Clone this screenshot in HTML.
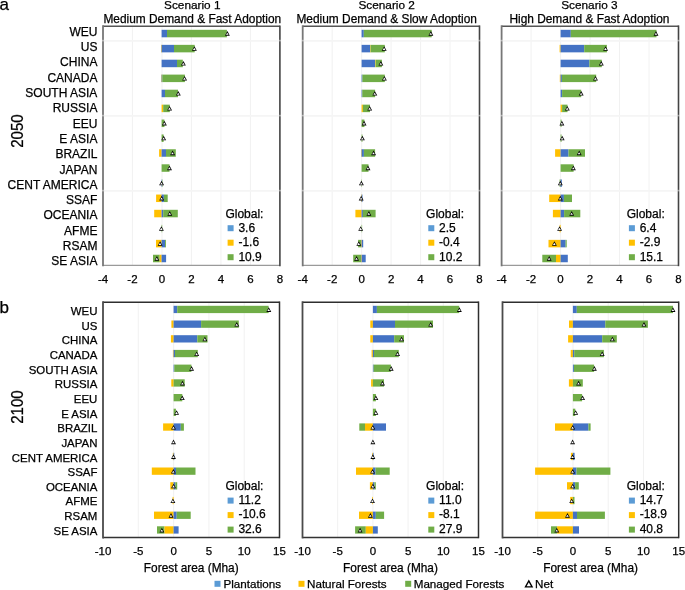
<!DOCTYPE html><html><head><meta charset="utf-8"><style>html,body{margin:0;padding:0;background:#fff;}svg{display:block;}text{font-family:"Liberation Sans",sans-serif;fill:#000;stroke:#000;stroke-width:0.25px;}</style></head><body>
<svg width="685" height="590" viewBox="0 0 685 590" style="will-change:transform">
<rect x="0" y="0" width="685" height="590" fill="#fff"/>
<text x="-0.5" y="10" font-size="17">a</text>
<text x="-0.5" y="313" font-size="17">b</text>
<text x="192.3" y="8.8" font-size="11.8" text-anchor="middle">Scenario 1</text>
<text x="192.3" y="22.8" font-size="11.9" text-anchor="middle">Medium Demand &amp; Fast Adoption</text>
<text x="386.7" y="8.8" font-size="11.8" text-anchor="middle">Scenario 2</text>
<text x="386.7" y="22.8" font-size="11.9" text-anchor="middle">Medium Demand &amp; Slow Adoption</text>
<text x="589.4" y="8.8" font-size="11.8" text-anchor="middle">Scenario 3</text>
<text x="589.4" y="22.8" font-size="11.9" text-anchor="middle">High Demand &amp; Fast Adoption</text>
<line x1="132.48" y1="26.2" x2="132.48" y2="265.4" stroke="#efefef" stroke-width="0.9"/>
<line x1="161.97" y1="26.2" x2="161.97" y2="265.4" stroke="#efefef" stroke-width="0.9"/>
<line x1="191.45" y1="26.2" x2="191.45" y2="265.4" stroke="#efefef" stroke-width="0.9"/>
<line x1="220.93" y1="26.2" x2="220.93" y2="265.4" stroke="#efefef" stroke-width="0.9"/>
<line x1="250.42" y1="26.2" x2="250.42" y2="265.4" stroke="#efefef" stroke-width="0.9"/>
<line x1="104" y1="40.9" x2="278.9" y2="40.9" stroke="#f5f5f5" stroke-width="1.6"/>
<line x1="104" y1="115.9" x2="278.9" y2="115.9" stroke="#f5f5f5" stroke-width="1.6"/>
<line x1="104" y1="190.9" x2="278.9" y2="190.9" stroke="#f5f5f5" stroke-width="1.6"/>
<rect x="161.6" y="29.8" width="5.4" height="7.5" fill="#4472C4"/>
<rect x="167" y="29.8" width="59.9" height="7.5" fill="#70AD47"/>
<rect x="161" y="44.85" width="0.6" height="7.5" fill="#FFC000"/>
<rect x="161.6" y="44.85" width="12.4" height="7.5" fill="#4472C4"/>
<rect x="174" y="44.85" width="20.7" height="7.5" fill="#70AD47"/>
<rect x="161.6" y="59.7" width="15.4" height="7.5" fill="#4472C4"/>
<rect x="177" y="59.7" width="5.8" height="7.5" fill="#70AD47"/>
<rect x="161.1" y="74.6" width="0.5" height="7.5" fill="#FFC000"/>
<rect x="161.6" y="74.6" width="0.7" height="7.5" fill="#4472C4"/>
<rect x="162.3" y="74.6" width="22.6" height="7.5" fill="#70AD47"/>
<rect x="161.6" y="89.7" width="3.4" height="7.5" fill="#4472C4"/>
<rect x="165" y="89.7" width="13" height="7.5" fill="#70AD47"/>
<rect x="161.6" y="104.65" width="1.6" height="7.5" fill="#FFC000"/>
<rect x="163.2" y="104.65" width="6.6" height="7.5" fill="#70AD47"/>
<rect x="161.6" y="119.55" width="2.8" height="7.5" fill="#70AD47"/>
<rect x="161.6" y="134.45" width="2" height="7.5" fill="#70AD47"/>
<rect x="159.1" y="149.25" width="2.5" height="7.5" fill="#FFC000"/>
<rect x="161.6" y="149.25" width="4.4" height="7.5" fill="#4472C4"/>
<rect x="166" y="149.25" width="9.8" height="7.5" fill="#70AD47"/>
<rect x="161.6" y="164.3" width="7.9" height="7.5" fill="#70AD47"/>
<rect x="161.6" y="179.45" width="0.5" height="7.5" fill="#4472C4"/>
<rect x="162.1" y="179.45" width="0.4" height="7.5" fill="#70AD47"/>
<rect x="156.1" y="194.55" width="5.5" height="7.5" fill="#FFC000"/>
<rect x="161.6" y="194.55" width="2.3" height="7.5" fill="#4472C4"/>
<rect x="163.9" y="194.55" width="3.8" height="7.5" fill="#70AD47"/>
<rect x="154.2" y="209.8" width="7.4" height="7.5" fill="#FFC000"/>
<rect x="161.6" y="209.8" width="1.6" height="7.5" fill="#4472C4"/>
<rect x="163.2" y="209.8" width="14.6" height="7.5" fill="#70AD47"/>
<rect x="161.6" y="224.85" width="0.6" height="7.5" fill="#70AD47"/>
<rect x="156" y="239.85" width="5.6" height="7.5" fill="#FFC000"/>
<rect x="161.6" y="239.85" width="3.5" height="7.5" fill="#4472C4"/>
<rect x="165.1" y="239.85" width="0.9" height="7.5" fill="#70AD47"/>
<rect x="153" y="254.75" width="6.7" height="7.5" fill="#70AD47"/>
<rect x="159.7" y="254.75" width="1.9" height="7.5" fill="#FFC000"/>
<rect x="161.6" y="254.75" width="4.5" height="7.5" fill="#4472C4"/>
<path d="M227.4 31.1L229.85 35.7L224.95 35.7Z" fill="#000"/>
<path d="M227.3 32.75L228.65 34.85L225.95 34.85Z" fill="#fff"/>
<path d="M194.4 46.15L196.85 50.75L191.95 50.75Z" fill="#000"/>
<path d="M194.3 47.8L195.65 49.9L192.95 49.9Z" fill="#fff"/>
<path d="M183.4 61L185.85 65.6L180.95 65.6Z" fill="#000"/>
<path d="M183.3 62.65L184.65 64.75L181.95 64.75Z" fill="#fff"/>
<path d="M184.6 75.9L187.05 80.5L182.15 80.5Z" fill="#000"/>
<path d="M184.5 77.55L185.85 79.65L183.15 79.65Z" fill="#fff"/>
<path d="M178.3 91L180.75 95.6L175.85 95.6Z" fill="#000"/>
<path d="M178.2 92.65L179.55 94.75L176.85 94.75Z" fill="#fff"/>
<path d="M169.6 105.95L172.05 110.55L167.15 110.55Z" fill="#000"/>
<path d="M169.5 107.6L170.85 109.7L168.15 109.7Z" fill="#fff"/>
<path d="M164.4 120.85L166.85 125.45L161.95 125.45Z" fill="#000"/>
<path d="M164.3 122.5L165.65 124.6L162.95 124.6Z" fill="#fff"/>
<path d="M163.7 135.75L166.15 140.35L161.25 140.35Z" fill="#000"/>
<path d="M163.6 137.4L164.95 139.5L162.25 139.5Z" fill="#fff"/>
<path d="M172.6 150.55L175.05 155.15L170.15 155.15Z" fill="#000"/>
<path d="M172.5 152.2L173.85 154.3L171.15 154.3Z" fill="#fff"/>
<path d="M169.5 165.6L171.95 170.2L167.05 170.2Z" fill="#000"/>
<path d="M169.4 167.25L170.75 169.35L168.05 169.35Z" fill="#fff"/>
<path d="M161.6 180.75L164.05 185.35L159.15 185.35Z" fill="#000"/>
<path d="M161.5 182.4L162.85 184.5L160.15 184.5Z" fill="#fff"/>
<path d="M161.7 195.85L164.15 200.45L159.25 200.45Z" fill="#000"/>
<path d="M161.6 197.5L162.95 199.6L160.25 199.6Z" fill="#fff"/>
<path d="M169.8 211.1L172.25 215.7L167.35 215.7Z" fill="#000"/>
<path d="M169.7 212.75L171.05 214.85L168.35 214.85Z" fill="#fff"/>
<path d="M161.4 226.15L163.85 230.75L158.95 230.75Z" fill="#000"/>
<path d="M161.3 227.8L162.65 229.9L159.95 229.9Z" fill="#fff"/>
<path d="M160.1 241.15L162.55 245.75L157.65 245.75Z" fill="#000"/>
<path d="M160 242.8L161.35 244.9L158.65 244.9Z" fill="#fff"/>
<path d="M156.9 256.05L159.35 260.65L154.45 260.65Z" fill="#000"/>
<path d="M156.8 257.7L158.15 259.8L155.45 259.8Z" fill="#fff"/>
<line x1="103" y1="265.4" x2="279.9" y2="265.4" stroke="#9a9a9a" stroke-width="1.1"/>
<line x1="103" y1="26.2" x2="279.9" y2="26.2" stroke="#555" stroke-width="1.4"/>
<line x1="103" y1="26.2" x2="103" y2="265.4" stroke="#777" stroke-width="1.8" stroke-linecap="square"/>
<line x1="279.9" y1="26.2" x2="279.9" y2="265.4" stroke="#444" stroke-width="1.6" stroke-linecap="square"/>
<rect x="101.8" y="39.8" width="2.4" height="1.6" fill="#fff" fill-opacity="0.45"/>
<rect x="278.7" y="39.8" width="2.4" height="1.6" fill="#fff" fill-opacity="0.45"/>
<rect x="101.8" y="114.8" width="2.4" height="1.6" fill="#fff" fill-opacity="0.45"/>
<rect x="278.7" y="114.8" width="2.4" height="1.6" fill="#fff" fill-opacity="0.45"/>
<rect x="101.8" y="189.8" width="2.4" height="1.6" fill="#fff" fill-opacity="0.45"/>
<rect x="278.7" y="189.8" width="2.4" height="1.6" fill="#fff" fill-opacity="0.45"/>
<line x1="138.3" y1="302.2" x2="138.3" y2="537.5" stroke="#efefef" stroke-width="0.9"/>
<line x1="173.6" y1="302.2" x2="173.6" y2="537.5" stroke="#efefef" stroke-width="0.9"/>
<line x1="208.9" y1="302.2" x2="208.9" y2="537.5" stroke="#efefef" stroke-width="0.9"/>
<line x1="244.2" y1="302.2" x2="244.2" y2="537.5" stroke="#efefef" stroke-width="0.9"/>
<rect x="173.6" y="305.8" width="3.6" height="7.3" fill="#4472C4"/>
<rect x="177.2" y="305.8" width="91.4" height="7.3" fill="#70AD47"/>
<rect x="171.4" y="320.5" width="2.2" height="7.3" fill="#FFC000"/>
<rect x="173.6" y="320.5" width="27.5" height="7.3" fill="#4472C4"/>
<rect x="201.1" y="320.5" width="37.7" height="7.3" fill="#70AD47"/>
<rect x="170.9" y="335.2" width="2.7" height="7.3" fill="#FFC000"/>
<rect x="173.6" y="335.2" width="23.7" height="7.3" fill="#4472C4"/>
<rect x="197.3" y="335.2" width="10.2" height="7.3" fill="#70AD47"/>
<rect x="172.9" y="349.9" width="0.7" height="7.3" fill="#FFC000"/>
<rect x="173.6" y="349.9" width="1.4" height="7.3" fill="#4472C4"/>
<rect x="175" y="349.9" width="22.8" height="7.3" fill="#70AD47"/>
<rect x="173.6" y="364.6" width="0.7" height="7.3" fill="#4472C4"/>
<rect x="174.3" y="364.6" width="17.1" height="7.3" fill="#70AD47"/>
<rect x="171.3" y="379.3" width="2.3" height="7.3" fill="#FFC000"/>
<rect x="173.6" y="379.3" width="11.1" height="7.3" fill="#70AD47"/>
<rect x="173.6" y="394" width="8.7" height="7.3" fill="#70AD47"/>
<rect x="173.6" y="408.7" width="2.3" height="7.3" fill="#70AD47"/>
<rect x="163.1" y="423.4" width="10.5" height="7.3" fill="#FFC000"/>
<rect x="173.6" y="423.4" width="7.2" height="7.3" fill="#4472C4"/>
<rect x="180.8" y="423.4" width="3.1" height="7.3" fill="#70AD47"/>
<rect x="172.8" y="452.8" width="0.8" height="7.3" fill="#FFC000"/>
<rect x="173.6" y="452.8" width="0.7" height="7.3" fill="#4472C4"/>
<rect x="151.8" y="467.5" width="21.8" height="7.3" fill="#FFC000"/>
<rect x="173.6" y="467.5" width="2.4" height="7.3" fill="#4472C4"/>
<rect x="176" y="467.5" width="19.5" height="7.3" fill="#70AD47"/>
<rect x="170.3" y="482.2" width="3.3" height="7.3" fill="#FFC000"/>
<rect x="173.6" y="482.2" width="1.7" height="7.3" fill="#4472C4"/>
<rect x="175.3" y="482.2" width="1.9" height="7.3" fill="#70AD47"/>
<rect x="172.6" y="496.9" width="1" height="7.3" fill="#FFC000"/>
<rect x="154" y="511.6" width="19.6" height="7.3" fill="#FFC000"/>
<rect x="173.6" y="511.6" width="3.1" height="7.3" fill="#4472C4"/>
<rect x="176.7" y="511.6" width="14" height="7.3" fill="#70AD47"/>
<rect x="157" y="526.3" width="7.5" height="7.3" fill="#70AD47"/>
<rect x="164.5" y="526.3" width="9.1" height="7.3" fill="#FFC000"/>
<rect x="173.6" y="526.3" width="5" height="7.3" fill="#4472C4"/>
<path d="M268.8 307.3L271.25 311.9L266.35 311.9Z" fill="#000"/>
<path d="M268.7 308.95L270.05 311.05L267.35 311.05Z" fill="#fff"/>
<path d="M236.8 322L239.25 326.6L234.35 326.6Z" fill="#000"/>
<path d="M236.7 323.65L238.05 325.75L235.35 325.75Z" fill="#fff"/>
<path d="M204.9 336.7L207.35 341.3L202.45 341.3Z" fill="#000"/>
<path d="M204.8 338.35L206.15 340.45L203.45 340.45Z" fill="#fff"/>
<path d="M196.7 351.4L199.15 356L194.25 356Z" fill="#000"/>
<path d="M196.6 353.05L197.95 355.15L195.25 355.15Z" fill="#fff"/>
<path d="M191.6 366.1L194.05 370.7L189.15 370.7Z" fill="#000"/>
<path d="M191.5 367.75L192.85 369.85L190.15 369.85Z" fill="#fff"/>
<path d="M182.5 380.8L184.95 385.4L180.05 385.4Z" fill="#000"/>
<path d="M182.4 382.45L183.75 384.55L181.05 384.55Z" fill="#fff"/>
<path d="M182.3 395.5L184.75 400.1L179.85 400.1Z" fill="#000"/>
<path d="M182.2 397.15L183.55 399.25L180.85 399.25Z" fill="#fff"/>
<path d="M176.6 410.2L179.05 414.8L174.15 414.8Z" fill="#000"/>
<path d="M176.5 411.85L177.85 413.95L175.15 413.95Z" fill="#fff"/>
<path d="M173.5 424.9L175.95 429.5L171.05 429.5Z" fill="#000"/>
<path d="M173.4 426.55L174.75 428.65L172.05 428.65Z" fill="#fff"/>
<path d="M173.5 439.6L175.95 444.2L171.05 444.2Z" fill="#000"/>
<path d="M173.4 441.25L174.75 443.35L172.05 443.35Z" fill="#fff"/>
<path d="M173.5 454.3L175.95 458.9L171.05 458.9Z" fill="#000"/>
<path d="M173.4 455.95L174.75 458.05L172.05 458.05Z" fill="#fff"/>
<path d="M173.4 469L175.85 473.6L170.95 473.6Z" fill="#000"/>
<path d="M173.3 470.65L174.65 472.75L171.95 472.75Z" fill="#fff"/>
<path d="M173.6 483.7L176.05 488.3L171.15 488.3Z" fill="#000"/>
<path d="M173.5 485.35L174.85 487.45L172.15 487.45Z" fill="#fff"/>
<path d="M172.9 498.4L175.35 503L170.45 503Z" fill="#000"/>
<path d="M172.8 500.05L174.15 502.15L171.45 502.15Z" fill="#fff"/>
<path d="M171 513.1L173.45 517.7L168.55 517.7Z" fill="#000"/>
<path d="M170.9 514.75L172.25 516.85L169.55 516.85Z" fill="#fff"/>
<path d="M161.9 527.8L164.35 532.4L159.45 532.4Z" fill="#000"/>
<path d="M161.8 529.45L163.15 531.55L160.45 531.55Z" fill="#fff"/>
<line x1="103" y1="537.5" x2="279.5" y2="537.5" stroke="#333" stroke-width="1.5"/>
<line x1="103" y1="302.2" x2="279.5" y2="302.2" stroke="#2e2e2e" stroke-width="1.5"/>
<line x1="103" y1="302.2" x2="103" y2="537.5" stroke="#4a4a4a" stroke-width="1.8" stroke-linecap="square"/>
<line x1="279.5" y1="302.2" x2="279.5" y2="537.5" stroke="#2e2e2e" stroke-width="1.5" stroke-linecap="square"/>
<line x1="332.17" y1="26.2" x2="332.17" y2="265.4" stroke="#efefef" stroke-width="0.9"/>
<line x1="361.63" y1="26.2" x2="361.63" y2="265.4" stroke="#efefef" stroke-width="0.9"/>
<line x1="391.1" y1="26.2" x2="391.1" y2="265.4" stroke="#efefef" stroke-width="0.9"/>
<line x1="420.57" y1="26.2" x2="420.57" y2="265.4" stroke="#efefef" stroke-width="0.9"/>
<line x1="450.03" y1="26.2" x2="450.03" y2="265.4" stroke="#efefef" stroke-width="0.9"/>
<line x1="303.7" y1="40.9" x2="478.5" y2="40.9" stroke="#f5f5f5" stroke-width="1.6"/>
<line x1="303.7" y1="115.9" x2="478.5" y2="115.9" stroke="#f5f5f5" stroke-width="1.6"/>
<line x1="303.7" y1="190.9" x2="478.5" y2="190.9" stroke="#f5f5f5" stroke-width="1.6"/>
<rect x="361.6" y="29.8" width="2.2" height="7.5" fill="#4472C4"/>
<rect x="363.8" y="29.8" width="67.9" height="7.5" fill="#70AD47"/>
<rect x="361.6" y="44.85" width="8.5" height="7.5" fill="#4472C4"/>
<rect x="370.1" y="44.85" width="0.5" height="7.5" fill="#FFC000"/>
<rect x="370.6" y="44.85" width="14.2" height="7.5" fill="#70AD47"/>
<rect x="361.6" y="59.7" width="13.4" height="7.5" fill="#4472C4"/>
<rect x="375" y="59.7" width="0.6" height="7.5" fill="#FFC000"/>
<rect x="375.6" y="59.7" width="6.3" height="7.5" fill="#70AD47"/>
<rect x="361.6" y="74.6" width="0.8" height="7.5" fill="#4472C4"/>
<rect x="362.4" y="74.6" width="22.4" height="7.5" fill="#70AD47"/>
<rect x="361.6" y="89.7" width="0.7" height="7.5" fill="#4472C4"/>
<rect x="362.3" y="89.7" width="12.8" height="7.5" fill="#70AD47"/>
<rect x="361.6" y="104.65" width="1.3" height="7.5" fill="#FFC000"/>
<rect x="362.9" y="104.65" width="7.1" height="7.5" fill="#70AD47"/>
<rect x="361.6" y="119.55" width="2.8" height="7.5" fill="#70AD47"/>
<rect x="361.6" y="134.45" width="0.8" height="7.5" fill="#70AD47"/>
<rect x="361.1" y="149.25" width="0.5" height="7.5" fill="#FFC000"/>
<rect x="361.6" y="149.25" width="2.3" height="7.5" fill="#4472C4"/>
<rect x="363.9" y="149.25" width="11.2" height="7.5" fill="#70AD47"/>
<rect x="361.6" y="164.3" width="6.9" height="7.5" fill="#70AD47"/>
<rect x="361.6" y="179.45" width="0.4" height="7.5" fill="#70AD47"/>
<rect x="361" y="194.55" width="0.6" height="7.5" fill="#FFC000"/>
<rect x="361.6" y="194.55" width="0.9" height="7.5" fill="#4472C4"/>
<rect x="355.4" y="209.8" width="6.2" height="7.5" fill="#FFC000"/>
<rect x="361.6" y="209.8" width="1.3" height="7.5" fill="#4472C4"/>
<rect x="362.9" y="209.8" width="12.7" height="7.5" fill="#70AD47"/>
<rect x="361.6" y="224.85" width="0.5" height="7.5" fill="#70AD47"/>
<rect x="358.1" y="239.85" width="2.9" height="7.5" fill="#70AD47"/>
<rect x="361" y="239.85" width="0.6" height="7.5" fill="#FFC000"/>
<rect x="361.6" y="239.85" width="1.6" height="7.5" fill="#4472C4"/>
<rect x="353.2" y="254.75" width="7.8" height="7.5" fill="#70AD47"/>
<rect x="361" y="254.75" width="0.6" height="7.5" fill="#FFC000"/>
<rect x="361.6" y="254.75" width="4.1" height="7.5" fill="#4472C4"/>
<path d="M430.9 31.1L433.35 35.7L428.45 35.7Z" fill="#000"/>
<path d="M430.8 32.75L432.15 34.85L429.45 34.85Z" fill="#fff"/>
<path d="M384.2 46.15L386.65 50.75L381.75 50.75Z" fill="#000"/>
<path d="M384.1 47.8L385.45 49.9L382.75 49.9Z" fill="#fff"/>
<path d="M380.9 61L383.35 65.6L378.45 65.6Z" fill="#000"/>
<path d="M380.8 62.65L382.15 64.75L379.45 64.75Z" fill="#fff"/>
<path d="M384.4 75.9L386.85 80.5L381.95 80.5Z" fill="#000"/>
<path d="M384.3 77.55L385.65 79.65L382.95 79.65Z" fill="#fff"/>
<path d="M374.8 91L377.25 95.6L372.35 95.6Z" fill="#000"/>
<path d="M374.7 92.65L376.05 94.75L373.35 94.75Z" fill="#fff"/>
<path d="M369.7 105.95L372.15 110.55L367.25 110.55Z" fill="#000"/>
<path d="M369.6 107.6L370.95 109.7L368.25 109.7Z" fill="#fff"/>
<path d="M364.1 120.85L366.55 125.45L361.65 125.45Z" fill="#000"/>
<path d="M364 122.5L365.35 124.6L362.65 124.6Z" fill="#fff"/>
<path d="M362.4 135.75L364.85 140.35L359.95 140.35Z" fill="#000"/>
<path d="M362.3 137.4L363.65 139.5L360.95 139.5Z" fill="#fff"/>
<path d="M373.6 150.55L376.05 155.15L371.15 155.15Z" fill="#000"/>
<path d="M373.5 152.2L374.85 154.3L372.15 154.3Z" fill="#fff"/>
<path d="M368 165.6L370.45 170.2L365.55 170.2Z" fill="#000"/>
<path d="M367.9 167.25L369.25 169.35L366.55 169.35Z" fill="#fff"/>
<path d="M361.4 180.75L363.85 185.35L358.95 185.35Z" fill="#000"/>
<path d="M361.3 182.4L362.65 184.5L359.95 184.5Z" fill="#fff"/>
<path d="M361.2 195.85L363.65 200.45L358.75 200.45Z" fill="#000"/>
<path d="M361.1 197.5L362.45 199.6L359.75 199.6Z" fill="#fff"/>
<path d="M368.9 211.1L371.35 215.7L366.45 215.7Z" fill="#000"/>
<path d="M368.8 212.75L370.15 214.85L367.45 214.85Z" fill="#fff"/>
<path d="M360.7 226.15L363.15 230.75L358.25 230.75Z" fill="#000"/>
<path d="M360.6 227.8L361.95 229.9L359.25 229.9Z" fill="#fff"/>
<path d="M358.8 241.15L361.25 245.75L356.35 245.75Z" fill="#000"/>
<path d="M358.7 242.8L360.05 244.9L357.35 244.9Z" fill="#fff"/>
<path d="M356.6 256.05L359.05 260.65L354.15 260.65Z" fill="#000"/>
<path d="M356.5 257.7L357.85 259.8L355.15 259.8Z" fill="#fff"/>
<line x1="302.7" y1="265.4" x2="479.5" y2="265.4" stroke="#9a9a9a" stroke-width="1.1"/>
<line x1="302.7" y1="26.2" x2="479.5" y2="26.2" stroke="#555" stroke-width="1.4"/>
<line x1="302.7" y1="26.2" x2="302.7" y2="265.4" stroke="#777" stroke-width="1.8" stroke-linecap="square"/>
<line x1="479.5" y1="26.2" x2="479.5" y2="265.4" stroke="#444" stroke-width="1.6" stroke-linecap="square"/>
<rect x="301.5" y="39.8" width="2.4" height="1.6" fill="#fff" fill-opacity="0.45"/>
<rect x="478.3" y="39.8" width="2.4" height="1.6" fill="#fff" fill-opacity="0.45"/>
<rect x="301.5" y="114.8" width="2.4" height="1.6" fill="#fff" fill-opacity="0.45"/>
<rect x="478.3" y="114.8" width="2.4" height="1.6" fill="#fff" fill-opacity="0.45"/>
<rect x="301.5" y="189.8" width="2.4" height="1.6" fill="#fff" fill-opacity="0.45"/>
<rect x="478.3" y="189.8" width="2.4" height="1.6" fill="#fff" fill-opacity="0.45"/>
<line x1="337.7" y1="302.2" x2="337.7" y2="537.5" stroke="#efefef" stroke-width="0.9"/>
<line x1="372.9" y1="302.2" x2="372.9" y2="537.5" stroke="#efefef" stroke-width="0.9"/>
<line x1="408.1" y1="302.2" x2="408.1" y2="537.5" stroke="#efefef" stroke-width="0.9"/>
<line x1="443.3" y1="302.2" x2="443.3" y2="537.5" stroke="#efefef" stroke-width="0.9"/>
<rect x="372.9" y="305.8" width="4" height="7.3" fill="#4472C4"/>
<rect x="376.9" y="305.8" width="82.3" height="7.3" fill="#70AD47"/>
<rect x="370.3" y="320.5" width="2.6" height="7.3" fill="#FFC000"/>
<rect x="372.9" y="320.5" width="22.1" height="7.3" fill="#4472C4"/>
<rect x="395" y="320.5" width="38" height="7.3" fill="#70AD47"/>
<rect x="370.3" y="335.2" width="2.6" height="7.3" fill="#FFC000"/>
<rect x="372.9" y="335.2" width="21.3" height="7.3" fill="#4472C4"/>
<rect x="394.2" y="335.2" width="9.8" height="7.3" fill="#70AD47"/>
<rect x="371.6" y="349.9" width="1.3" height="7.3" fill="#FFC000"/>
<rect x="372.9" y="349.9" width="1.1" height="7.3" fill="#4472C4"/>
<rect x="374" y="349.9" width="24.8" height="7.3" fill="#70AD47"/>
<rect x="372.9" y="364.6" width="0.7" height="7.3" fill="#4472C4"/>
<rect x="373.6" y="364.6" width="17.3" height="7.3" fill="#70AD47"/>
<rect x="371.1" y="379.3" width="1.8" height="7.3" fill="#FFC000"/>
<rect x="372.9" y="379.3" width="11.1" height="7.3" fill="#70AD47"/>
<rect x="372.9" y="394" width="3" height="7.3" fill="#70AD47"/>
<rect x="372.9" y="408.7" width="3" height="7.3" fill="#70AD47"/>
<rect x="359.3" y="423.4" width="5.7" height="7.3" fill="#70AD47"/>
<rect x="365" y="423.4" width="7.9" height="7.3" fill="#FFC000"/>
<rect x="372.9" y="423.4" width="13.1" height="7.3" fill="#4472C4"/>
<rect x="372.2" y="452.8" width="0.7" height="7.3" fill="#FFC000"/>
<rect x="372.9" y="452.8" width="0.7" height="7.3" fill="#4472C4"/>
<rect x="356" y="467.5" width="16.9" height="7.3" fill="#FFC000"/>
<rect x="372.9" y="467.5" width="2.7" height="7.3" fill="#4472C4"/>
<rect x="375.6" y="467.5" width="14.1" height="7.3" fill="#70AD47"/>
<rect x="369.9" y="482.2" width="3" height="7.3" fill="#FFC000"/>
<rect x="372.9" y="482.2" width="1.6" height="7.3" fill="#4472C4"/>
<rect x="374.5" y="482.2" width="1.3" height="7.3" fill="#70AD47"/>
<rect x="372.2" y="496.9" width="0.7" height="7.3" fill="#FFC000"/>
<rect x="359" y="511.6" width="13.9" height="7.3" fill="#FFC000"/>
<rect x="372.9" y="511.6" width="2.9" height="7.3" fill="#4472C4"/>
<rect x="375.8" y="511.6" width="8.3" height="7.3" fill="#70AD47"/>
<rect x="355.1" y="526.3" width="10.7" height="7.3" fill="#70AD47"/>
<rect x="365.8" y="526.3" width="7.1" height="7.3" fill="#FFC000"/>
<rect x="372.9" y="526.3" width="4.9" height="7.3" fill="#4472C4"/>
<path d="M459.4 307.3L461.85 311.9L456.95 311.9Z" fill="#000"/>
<path d="M459.3 308.95L460.65 311.05L457.95 311.05Z" fill="#fff"/>
<path d="M430.7 322L433.15 326.6L428.25 326.6Z" fill="#000"/>
<path d="M430.6 323.65L431.95 325.75L429.25 325.75Z" fill="#fff"/>
<path d="M401.6 336.7L404.05 341.3L399.15 341.3Z" fill="#000"/>
<path d="M401.5 338.35L402.85 340.45L400.15 340.45Z" fill="#fff"/>
<path d="M397.6 351.4L400.05 356L395.15 356Z" fill="#000"/>
<path d="M397.5 353.05L398.85 355.15L396.15 355.15Z" fill="#fff"/>
<path d="M391.2 366.1L393.65 370.7L388.75 370.7Z" fill="#000"/>
<path d="M391.1 367.75L392.45 369.85L389.75 369.85Z" fill="#fff"/>
<path d="M382.5 380.8L384.95 385.4L380.05 385.4Z" fill="#000"/>
<path d="M382.4 382.45L383.75 384.55L381.05 384.55Z" fill="#fff"/>
<path d="M375.9 395.5L378.35 400.1L373.45 400.1Z" fill="#000"/>
<path d="M375.8 397.15L377.15 399.25L374.45 399.25Z" fill="#fff"/>
<path d="M375.9 410.2L378.35 414.8L373.45 414.8Z" fill="#000"/>
<path d="M375.8 411.85L377.15 413.95L374.45 413.95Z" fill="#fff"/>
<path d="M372.8 424.9L375.25 429.5L370.35 429.5Z" fill="#000"/>
<path d="M372.7 426.55L374.05 428.65L371.35 428.65Z" fill="#fff"/>
<path d="M372.9 439.6L375.35 444.2L370.45 444.2Z" fill="#000"/>
<path d="M372.8 441.25L374.15 443.35L371.45 443.35Z" fill="#fff"/>
<path d="M372.9 454.3L375.35 458.9L370.45 458.9Z" fill="#000"/>
<path d="M372.8 455.95L374.15 458.05L371.45 458.05Z" fill="#fff"/>
<path d="M372.6 469L375.05 473.6L370.15 473.6Z" fill="#000"/>
<path d="M372.5 470.65L373.85 472.75L371.15 472.75Z" fill="#fff"/>
<path d="M372.9 483.7L375.35 488.3L370.45 488.3Z" fill="#000"/>
<path d="M372.8 485.35L374.15 487.45L371.45 487.45Z" fill="#fff"/>
<path d="M372.5 498.4L374.95 503L370.05 503Z" fill="#000"/>
<path d="M372.4 500.05L373.75 502.15L371.05 502.15Z" fill="#fff"/>
<path d="M370.4 513.1L372.85 517.7L367.95 517.7Z" fill="#000"/>
<path d="M370.3 514.75L371.65 516.85L368.95 516.85Z" fill="#fff"/>
<path d="M360.1 527.8L362.55 532.4L357.65 532.4Z" fill="#000"/>
<path d="M360 529.45L361.35 531.55L358.65 531.55Z" fill="#fff"/>
<line x1="302.5" y1="537.5" x2="478.5" y2="537.5" stroke="#333" stroke-width="1.5"/>
<line x1="302.5" y1="302.2" x2="478.5" y2="302.2" stroke="#2e2e2e" stroke-width="1.5"/>
<line x1="302.5" y1="302.2" x2="302.5" y2="537.5" stroke="#4a4a4a" stroke-width="1.8" stroke-linecap="square"/>
<line x1="478.5" y1="302.2" x2="478.5" y2="537.5" stroke="#2e2e2e" stroke-width="1.5" stroke-linecap="square"/>
<line x1="531.08" y1="26.2" x2="531.08" y2="265.4" stroke="#efefef" stroke-width="0.9"/>
<line x1="560.57" y1="26.2" x2="560.57" y2="265.4" stroke="#efefef" stroke-width="0.9"/>
<line x1="590.05" y1="26.2" x2="590.05" y2="265.4" stroke="#efefef" stroke-width="0.9"/>
<line x1="619.53" y1="26.2" x2="619.53" y2="265.4" stroke="#efefef" stroke-width="0.9"/>
<line x1="649.02" y1="26.2" x2="649.02" y2="265.4" stroke="#efefef" stroke-width="0.9"/>
<line x1="502.6" y1="40.9" x2="677.5" y2="40.9" stroke="#f5f5f5" stroke-width="1.6"/>
<line x1="502.6" y1="115.9" x2="677.5" y2="115.9" stroke="#f5f5f5" stroke-width="1.6"/>
<line x1="502.6" y1="190.9" x2="677.5" y2="190.9" stroke="#f5f5f5" stroke-width="1.6"/>
<rect x="560.6" y="29.8" width="10.2" height="7.5" fill="#4472C4"/>
<rect x="570.8" y="29.8" width="85.7" height="7.5" fill="#70AD47"/>
<rect x="559.6" y="44.85" width="1" height="7.5" fill="#FFC000"/>
<rect x="560.6" y="44.85" width="23.6" height="7.5" fill="#4472C4"/>
<rect x="584.2" y="44.85" width="22.7" height="7.5" fill="#70AD47"/>
<rect x="560.6" y="59.7" width="28.8" height="7.5" fill="#4472C4"/>
<rect x="589.4" y="59.7" width="12.4" height="7.5" fill="#70AD47"/>
<rect x="559.8" y="74.6" width="0.8" height="7.5" fill="#FFC000"/>
<rect x="560.6" y="74.6" width="1.3" height="7.5" fill="#4472C4"/>
<rect x="561.9" y="74.6" width="34.3" height="7.5" fill="#70AD47"/>
<rect x="560.6" y="89.7" width="1.5" height="7.5" fill="#4472C4"/>
<rect x="562.1" y="89.7" width="19.1" height="7.5" fill="#70AD47"/>
<rect x="560.6" y="104.65" width="1.5" height="7.5" fill="#FFC000"/>
<rect x="562.1" y="104.65" width="5.4" height="7.5" fill="#70AD47"/>
<rect x="560.6" y="119.55" width="0.9" height="7.5" fill="#70AD47"/>
<rect x="560.6" y="134.45" width="0.9" height="7.5" fill="#70AD47"/>
<rect x="555.1" y="149.25" width="5.5" height="7.5" fill="#FFC000"/>
<rect x="560.6" y="149.25" width="7.9" height="7.5" fill="#4472C4"/>
<rect x="568.5" y="149.25" width="16.5" height="7.5" fill="#70AD47"/>
<rect x="560.6" y="164.3" width="13" height="7.5" fill="#70AD47"/>
<rect x="559.6" y="179.45" width="1" height="7.5" fill="#70AD47"/>
<rect x="560.6" y="179.45" width="1.2" height="7.5" fill="#4472C4"/>
<rect x="549.2" y="194.55" width="11.4" height="7.5" fill="#FFC000"/>
<rect x="560.6" y="194.55" width="3.3" height="7.5" fill="#4472C4"/>
<rect x="563.9" y="194.55" width="8.1" height="7.5" fill="#70AD47"/>
<rect x="552.9" y="209.8" width="7.7" height="7.5" fill="#FFC000"/>
<rect x="560.6" y="209.8" width="3.5" height="7.5" fill="#4472C4"/>
<rect x="564.1" y="209.8" width="16.2" height="7.5" fill="#70AD47"/>
<rect x="559.6" y="224.85" width="1" height="7.5" fill="#FFC000"/>
<rect x="548.5" y="239.85" width="12.1" height="7.5" fill="#FFC000"/>
<rect x="560.6" y="239.85" width="5" height="7.5" fill="#4472C4"/>
<rect x="565.6" y="239.85" width="1.1" height="7.5" fill="#70AD47"/>
<rect x="542.3" y="254.75" width="13.7" height="7.5" fill="#70AD47"/>
<rect x="556" y="254.75" width="4.6" height="7.5" fill="#FFC000"/>
<rect x="560.6" y="254.75" width="7.2" height="7.5" fill="#4472C4"/>
<path d="M656 31.1L658.45 35.7L653.55 35.7Z" fill="#000"/>
<path d="M655.9 32.75L657.25 34.85L654.55 34.85Z" fill="#fff"/>
<path d="M605.6 46.15L608.05 50.75L603.15 50.75Z" fill="#000"/>
<path d="M605.5 47.8L606.85 49.9L604.15 49.9Z" fill="#fff"/>
<path d="M601.3 61L603.75 65.6L598.85 65.6Z" fill="#000"/>
<path d="M601.2 62.65L602.55 64.75L599.85 64.75Z" fill="#fff"/>
<path d="M595.5 75.9L597.95 80.5L593.05 80.5Z" fill="#000"/>
<path d="M595.4 77.55L596.75 79.65L594.05 79.65Z" fill="#fff"/>
<path d="M581.2 91L583.65 95.6L578.75 95.6Z" fill="#000"/>
<path d="M581.1 92.65L582.45 94.75L579.75 94.75Z" fill="#fff"/>
<path d="M567.3 105.95L569.75 110.55L564.85 110.55Z" fill="#000"/>
<path d="M567.2 107.6L568.55 109.7L565.85 109.7Z" fill="#fff"/>
<path d="M561.9 120.85L564.35 125.45L559.45 125.45Z" fill="#000"/>
<path d="M561.8 122.5L563.15 124.6L560.45 124.6Z" fill="#fff"/>
<path d="M562.2 135.75L564.65 140.35L559.75 140.35Z" fill="#000"/>
<path d="M562.1 137.4L563.45 139.5L560.75 139.5Z" fill="#fff"/>
<path d="M579.2 150.55L581.65 155.15L576.75 155.15Z" fill="#000"/>
<path d="M579.1 152.2L580.45 154.3L577.75 154.3Z" fill="#fff"/>
<path d="M573.4 165.6L575.85 170.2L570.95 170.2Z" fill="#000"/>
<path d="M573.3 167.25L574.65 169.35L571.95 169.35Z" fill="#fff"/>
<path d="M560.3 180.75L562.75 185.35L557.85 185.35Z" fill="#000"/>
<path d="M560.2 182.4L561.55 184.5L558.85 184.5Z" fill="#fff"/>
<path d="M560.3 195.85L562.75 200.45L557.85 200.45Z" fill="#000"/>
<path d="M560.2 197.5L561.55 199.6L558.85 199.6Z" fill="#fff"/>
<path d="M571.7 211.1L574.15 215.7L569.25 215.7Z" fill="#000"/>
<path d="M571.6 212.75L572.95 214.85L570.25 214.85Z" fill="#fff"/>
<path d="M559.6 226.15L562.05 230.75L557.15 230.75Z" fill="#000"/>
<path d="M559.5 227.8L560.85 229.9L558.15 229.9Z" fill="#fff"/>
<path d="M554.4 241.15L556.85 245.75L551.95 245.75Z" fill="#000"/>
<path d="M554.3 242.8L555.65 244.9L552.95 244.9Z" fill="#fff"/>
<path d="M549.2 256.05L551.65 260.65L546.75 260.65Z" fill="#000"/>
<path d="M549.1 257.7L550.45 259.8L547.75 259.8Z" fill="#fff"/>
<line x1="501.6" y1="265.4" x2="678.5" y2="265.4" stroke="#9a9a9a" stroke-width="1.1"/>
<line x1="501.6" y1="26.2" x2="678.5" y2="26.2" stroke="#555" stroke-width="1.4"/>
<line x1="501.6" y1="26.2" x2="501.6" y2="265.4" stroke="#777" stroke-width="1.8" stroke-linecap="square"/>
<line x1="678.5" y1="26.2" x2="678.5" y2="265.4" stroke="#444" stroke-width="1.6" stroke-linecap="square"/>
<rect x="500.4" y="39.8" width="2.4" height="1.6" fill="#fff" fill-opacity="0.45"/>
<rect x="677.3" y="39.8" width="2.4" height="1.6" fill="#fff" fill-opacity="0.45"/>
<rect x="500.4" y="114.8" width="2.4" height="1.6" fill="#fff" fill-opacity="0.45"/>
<rect x="677.3" y="114.8" width="2.4" height="1.6" fill="#fff" fill-opacity="0.45"/>
<rect x="500.4" y="189.8" width="2.4" height="1.6" fill="#fff" fill-opacity="0.45"/>
<rect x="677.3" y="189.8" width="2.4" height="1.6" fill="#fff" fill-opacity="0.45"/>
<line x1="537.74" y1="302.2" x2="537.74" y2="537.5" stroke="#efefef" stroke-width="0.9"/>
<line x1="572.98" y1="302.2" x2="572.98" y2="537.5" stroke="#efefef" stroke-width="0.9"/>
<line x1="608.22" y1="302.2" x2="608.22" y2="537.5" stroke="#efefef" stroke-width="0.9"/>
<line x1="643.46" y1="302.2" x2="643.46" y2="537.5" stroke="#efefef" stroke-width="0.9"/>
<rect x="572.9" y="305.8" width="3.9" height="7.3" fill="#4472C4"/>
<rect x="576.8" y="305.8" width="96.2" height="7.3" fill="#70AD47"/>
<rect x="569" y="320.5" width="3.9" height="7.3" fill="#FFC000"/>
<rect x="572.9" y="320.5" width="32.4" height="7.3" fill="#4472C4"/>
<rect x="605.3" y="320.5" width="42.6" height="7.3" fill="#70AD47"/>
<rect x="568.1" y="335.2" width="4.8" height="7.3" fill="#FFC000"/>
<rect x="572.9" y="335.2" width="29.3" height="7.3" fill="#4472C4"/>
<rect x="602.2" y="335.2" width="14.6" height="7.3" fill="#70AD47"/>
<rect x="570.7" y="349.9" width="2.2" height="7.3" fill="#FFC000"/>
<rect x="572.9" y="349.9" width="1.3" height="7.3" fill="#4472C4"/>
<rect x="574.2" y="349.9" width="29.7" height="7.3" fill="#70AD47"/>
<rect x="572.9" y="364.6" width="1" height="7.3" fill="#4472C4"/>
<rect x="573.9" y="364.6" width="20.2" height="7.3" fill="#70AD47"/>
<rect x="568.9" y="379.3" width="4" height="7.3" fill="#FFC000"/>
<rect x="572.9" y="379.3" width="9.9" height="7.3" fill="#70AD47"/>
<rect x="572.9" y="394" width="9.2" height="7.3" fill="#70AD47"/>
<rect x="572.9" y="408.7" width="2.4" height="7.3" fill="#70AD47"/>
<rect x="555" y="423.4" width="17.9" height="7.3" fill="#FFC000"/>
<rect x="572.9" y="423.4" width="15.6" height="7.3" fill="#4472C4"/>
<rect x="588.5" y="423.4" width="2.1" height="7.3" fill="#70AD47"/>
<rect x="570.9" y="452.8" width="2" height="7.3" fill="#FFC000"/>
<rect x="572.9" y="452.8" width="1.7" height="7.3" fill="#4472C4"/>
<rect x="535.1" y="467.5" width="37.8" height="7.3" fill="#FFC000"/>
<rect x="572.9" y="467.5" width="3.6" height="7.3" fill="#4472C4"/>
<rect x="576.5" y="467.5" width="33.9" height="7.3" fill="#70AD47"/>
<rect x="567" y="482.2" width="5.9" height="7.3" fill="#FFC000"/>
<rect x="572.9" y="482.2" width="2.2" height="7.3" fill="#4472C4"/>
<rect x="575.1" y="482.2" width="3.7" height="7.3" fill="#70AD47"/>
<rect x="570.2" y="496.9" width="2.7" height="7.3" fill="#FFC000"/>
<rect x="572.9" y="496.9" width="1.6" height="7.3" fill="#70AD47"/>
<rect x="535.1" y="511.6" width="37.8" height="7.3" fill="#FFC000"/>
<rect x="572.9" y="511.6" width="4.1" height="7.3" fill="#4472C4"/>
<rect x="577" y="511.6" width="27.9" height="7.3" fill="#70AD47"/>
<rect x="551" y="526.3" width="6.1" height="7.3" fill="#70AD47"/>
<rect x="557.1" y="526.3" width="15.8" height="7.3" fill="#FFC000"/>
<rect x="572.9" y="526.3" width="6.1" height="7.3" fill="#4472C4"/>
<path d="M673 307.3L675.45 311.9L670.55 311.9Z" fill="#000"/>
<path d="M672.9 308.95L674.25 311.05L671.55 311.05Z" fill="#fff"/>
<path d="M644 322L646.45 326.6L641.55 326.6Z" fill="#000"/>
<path d="M643.9 323.65L645.25 325.75L642.55 325.75Z" fill="#fff"/>
<path d="M612.4 336.7L614.85 341.3L609.95 341.3Z" fill="#000"/>
<path d="M612.3 338.35L613.65 340.45L610.95 340.45Z" fill="#fff"/>
<path d="M602.2 351.4L604.65 356L599.75 356Z" fill="#000"/>
<path d="M602.1 353.05L603.45 355.15L600.75 355.15Z" fill="#fff"/>
<path d="M594.4 366.1L596.85 370.7L591.95 370.7Z" fill="#000"/>
<path d="M594.3 367.75L595.65 369.85L592.95 369.85Z" fill="#fff"/>
<path d="M578.6 380.8L581.05 385.4L576.15 385.4Z" fill="#000"/>
<path d="M578.5 382.45L579.85 384.55L577.15 384.55Z" fill="#fff"/>
<path d="M582.6 395.5L585.05 400.1L580.15 400.1Z" fill="#000"/>
<path d="M582.5 397.15L583.85 399.25L581.15 399.25Z" fill="#fff"/>
<path d="M575.7 410.2L578.15 414.8L573.25 414.8Z" fill="#000"/>
<path d="M575.6 411.85L576.95 413.95L574.25 413.95Z" fill="#fff"/>
<path d="M572.7 424.9L575.15 429.5L570.25 429.5Z" fill="#000"/>
<path d="M572.6 426.55L573.95 428.65L571.25 428.65Z" fill="#fff"/>
<path d="M572.6 439.6L575.05 444.2L570.15 444.2Z" fill="#000"/>
<path d="M572.5 441.25L573.85 443.35L571.15 443.35Z" fill="#fff"/>
<path d="M572.6 454.3L575.05 458.9L570.15 458.9Z" fill="#000"/>
<path d="M572.5 455.95L573.85 458.05L571.15 458.05Z" fill="#fff"/>
<path d="M572.7 469L575.15 473.6L570.25 473.6Z" fill="#000"/>
<path d="M572.6 470.65L573.95 472.75L571.25 472.75Z" fill="#fff"/>
<path d="M572.7 483.7L575.15 488.3L570.25 488.3Z" fill="#000"/>
<path d="M572.6 485.35L573.95 487.45L571.25 487.45Z" fill="#fff"/>
<path d="M571.7 498.4L574.15 503L569.25 503Z" fill="#000"/>
<path d="M571.6 500.05L572.95 502.15L570.25 502.15Z" fill="#fff"/>
<path d="M567.5 513.1L569.95 517.7L565.05 517.7Z" fill="#000"/>
<path d="M567.4 514.75L568.75 516.85L566.05 516.85Z" fill="#fff"/>
<path d="M556.8 527.8L559.25 532.4L554.35 532.4Z" fill="#000"/>
<path d="M556.7 529.45L558.05 531.55L555.35 531.55Z" fill="#fff"/>
<line x1="502.5" y1="537.5" x2="678.7" y2="537.5" stroke="#333" stroke-width="1.5"/>
<line x1="502.5" y1="302.2" x2="678.7" y2="302.2" stroke="#2e2e2e" stroke-width="1.5"/>
<line x1="502.5" y1="302.2" x2="502.5" y2="537.5" stroke="#4a4a4a" stroke-width="1.8" stroke-linecap="square"/>
<line x1="678.7" y1="302.2" x2="678.7" y2="537.5" stroke="#2e2e2e" stroke-width="1.5" stroke-linecap="square"/>
<text x="103" y="283.2" font-size="11.5" text-anchor="middle">-4</text>
<text x="132.48" y="283.2" font-size="11.5" text-anchor="middle">-2</text>
<text x="161.97" y="283.2" font-size="11.5" text-anchor="middle">0</text>
<text x="191.45" y="283.2" font-size="11.5" text-anchor="middle">2</text>
<text x="220.93" y="283.2" font-size="11.5" text-anchor="middle">4</text>
<text x="250.42" y="283.2" font-size="11.5" text-anchor="middle">6</text>
<text x="279.9" y="283.2" font-size="11.5" text-anchor="middle">8</text>
<text x="103" y="555.1" font-size="11.5" text-anchor="middle">-10</text>
<text x="138.3" y="555.1" font-size="11.5" text-anchor="middle">-5</text>
<text x="173.6" y="555.1" font-size="11.5" text-anchor="middle">0</text>
<text x="208.9" y="555.1" font-size="11.5" text-anchor="middle">5</text>
<text x="244.2" y="555.1" font-size="11.5" text-anchor="middle">10</text>
<text x="279.5" y="555.1" font-size="11.5" text-anchor="middle">15</text>
<text x="191.25" y="572.1" font-size="11.85" text-anchor="middle">Forest area (Mha)</text>
<text x="302.7" y="283.2" font-size="11.5" text-anchor="middle">-4</text>
<text x="332.17" y="283.2" font-size="11.5" text-anchor="middle">-2</text>
<text x="361.63" y="283.2" font-size="11.5" text-anchor="middle">0</text>
<text x="391.1" y="283.2" font-size="11.5" text-anchor="middle">2</text>
<text x="420.57" y="283.2" font-size="11.5" text-anchor="middle">4</text>
<text x="450.03" y="283.2" font-size="11.5" text-anchor="middle">6</text>
<text x="479.5" y="283.2" font-size="11.5" text-anchor="middle">8</text>
<text x="302.5" y="555.1" font-size="11.5" text-anchor="middle">-10</text>
<text x="337.7" y="555.1" font-size="11.5" text-anchor="middle">-5</text>
<text x="372.9" y="555.1" font-size="11.5" text-anchor="middle">0</text>
<text x="408.1" y="555.1" font-size="11.5" text-anchor="middle">5</text>
<text x="443.3" y="555.1" font-size="11.5" text-anchor="middle">10</text>
<text x="478.5" y="555.1" font-size="11.5" text-anchor="middle">15</text>
<text x="390.5" y="572.1" font-size="11.85" text-anchor="middle">Forest area (Mha)</text>
<text x="501.6" y="283.2" font-size="11.5" text-anchor="middle">-4</text>
<text x="531.08" y="283.2" font-size="11.5" text-anchor="middle">-2</text>
<text x="560.57" y="283.2" font-size="11.5" text-anchor="middle">0</text>
<text x="590.05" y="283.2" font-size="11.5" text-anchor="middle">2</text>
<text x="619.53" y="283.2" font-size="11.5" text-anchor="middle">4</text>
<text x="649.02" y="283.2" font-size="11.5" text-anchor="middle">6</text>
<text x="678.5" y="283.2" font-size="11.5" text-anchor="middle">8</text>
<text x="502.5" y="555.1" font-size="11.5" text-anchor="middle">-10</text>
<text x="537.74" y="555.1" font-size="11.5" text-anchor="middle">-5</text>
<text x="572.98" y="555.1" font-size="11.5" text-anchor="middle">0</text>
<text x="608.22" y="555.1" font-size="11.5" text-anchor="middle">5</text>
<text x="643.46" y="555.1" font-size="11.5" text-anchor="middle">10</text>
<text x="678.7" y="555.1" font-size="11.5" text-anchor="middle">15</text>
<text x="590.6" y="572.1" font-size="11.85" text-anchor="middle">Forest area (Mha)</text>
<text x="97.4" y="35.8" font-size="12" text-anchor="end">WEU</text>
<text x="97.4" y="314.9" font-size="11.45" text-anchor="end">WEU</text>
<text x="97.4" y="51.1" font-size="12" text-anchor="end">US</text>
<text x="97.4" y="329.56" font-size="11.45" text-anchor="end">US</text>
<text x="97.4" y="66.4" font-size="12" text-anchor="end">CHINA</text>
<text x="97.4" y="344.22" font-size="11.45" text-anchor="end">CHINA</text>
<text x="97.4" y="81.7" font-size="12" text-anchor="end">CANADA</text>
<text x="97.4" y="358.88" font-size="11.45" text-anchor="end">CANADA</text>
<text x="97.4" y="97" font-size="12" text-anchor="end">SOUTH ASIA</text>
<text x="97.4" y="373.54" font-size="11.45" text-anchor="end">SOUTH ASIA</text>
<text x="97.4" y="112.3" font-size="12" text-anchor="end">RUSSIA</text>
<text x="97.4" y="388.2" font-size="11.45" text-anchor="end">RUSSIA</text>
<text x="97.4" y="127.6" font-size="12" text-anchor="end">EEU</text>
<text x="97.4" y="402.86" font-size="11.45" text-anchor="end">EEU</text>
<text x="97.4" y="142.9" font-size="12" text-anchor="end">E ASIA</text>
<text x="97.4" y="417.52" font-size="11.45" text-anchor="end">E ASIA</text>
<text x="97.4" y="158.2" font-size="12" text-anchor="end">BRAZIL</text>
<text x="97.4" y="432.18" font-size="11.45" text-anchor="end">BRAZIL</text>
<text x="97.4" y="173.5" font-size="12" text-anchor="end">JAPAN</text>
<text x="97.4" y="446.84" font-size="11.45" text-anchor="end">JAPAN</text>
<text x="97.4" y="188.8" font-size="12" text-anchor="end">CENT AMERICA</text>
<text x="97.4" y="461.5" font-size="11.45" text-anchor="end">CENT AMERICA</text>
<text x="97.4" y="204.1" font-size="12" text-anchor="end">SSAF</text>
<text x="97.4" y="476.16" font-size="11.45" text-anchor="end">SSAF</text>
<text x="97.4" y="219.4" font-size="12" text-anchor="end">OCEANIA</text>
<text x="97.4" y="490.82" font-size="11.45" text-anchor="end">OCEANIA</text>
<text x="97.4" y="234.7" font-size="12" text-anchor="end">AFME</text>
<text x="97.4" y="505.48" font-size="11.45" text-anchor="end">AFME</text>
<text x="97.4" y="250" font-size="12" text-anchor="end">RSAM</text>
<text x="97.4" y="520.14" font-size="11.45" text-anchor="end">RSAM</text>
<text x="97.4" y="265.3" font-size="12" text-anchor="end">SE ASIA</text>
<text x="97.4" y="534.8" font-size="11.45" text-anchor="end">SE ASIA</text>
<text transform="translate(22.6,131.1) rotate(-90) scale(1,1.05)" font-size="15" text-anchor="middle">2050</text>
<text transform="translate(22.6,407.1) rotate(-90) scale(1,1.05)" font-size="15" text-anchor="middle">2100</text>
<text x="225.4" y="217.5" font-size="12">Global:</text>
<rect x="227.6" y="225.2" width="6" height="6" fill="#5B9BD5"/>
<text x="238.4" y="231.5" font-size="12">3.6</text>
<rect x="227.6" y="239.7" width="6" height="6" fill="#FFC000"/>
<text x="238.4" y="246" font-size="12">-1.6</text>
<rect x="227.6" y="254.2" width="6" height="6" fill="#70AD47"/>
<text x="238.4" y="260.5" font-size="12">10.9</text>
<text x="225.4" y="489.9" font-size="12">Global:</text>
<rect x="227.6" y="497.6" width="6" height="6" fill="#5B9BD5"/>
<text x="238.4" y="503.9" font-size="12">11.2</text>
<rect x="227.6" y="512.1" width="6" height="6" fill="#FFC000"/>
<text x="238.4" y="518.4" font-size="12">-10.6</text>
<rect x="227.6" y="526.6" width="6" height="6" fill="#70AD47"/>
<text x="238.4" y="532.9" font-size="12">32.6</text>
<text x="426.1" y="217.5" font-size="12">Global:</text>
<rect x="428.3" y="225.2" width="6" height="6" fill="#5B9BD5"/>
<text x="439.1" y="231.5" font-size="12">2.5</text>
<rect x="428.3" y="239.7" width="6" height="6" fill="#FFC000"/>
<text x="439.1" y="246" font-size="12">-0.4</text>
<rect x="428.3" y="254.2" width="6" height="6" fill="#70AD47"/>
<text x="439.1" y="260.5" font-size="12">10.2</text>
<text x="426.1" y="489.9" font-size="12">Global:</text>
<rect x="428.3" y="497.6" width="6" height="6" fill="#5B9BD5"/>
<text x="439.1" y="503.9" font-size="12">11.0</text>
<rect x="428.3" y="512.1" width="6" height="6" fill="#FFC000"/>
<text x="439.1" y="518.4" font-size="12">-8.1</text>
<rect x="428.3" y="526.6" width="6" height="6" fill="#70AD47"/>
<text x="439.1" y="532.9" font-size="12">27.9</text>
<text x="626.7" y="217.5" font-size="12">Global:</text>
<rect x="628.9" y="225.2" width="6" height="6" fill="#5B9BD5"/>
<text x="639.7" y="231.5" font-size="12">6.4</text>
<rect x="628.9" y="239.7" width="6" height="6" fill="#FFC000"/>
<text x="639.7" y="246" font-size="12">-2.9</text>
<rect x="628.9" y="254.2" width="6" height="6" fill="#70AD47"/>
<text x="639.7" y="260.5" font-size="12">15.1</text>
<text x="626.7" y="489.9" font-size="12">Global:</text>
<rect x="628.9" y="497.6" width="6" height="6" fill="#5B9BD5"/>
<text x="639.7" y="503.9" font-size="12">14.7</text>
<rect x="628.9" y="512.1" width="6" height="6" fill="#FFC000"/>
<text x="639.7" y="518.4" font-size="12">-18.9</text>
<rect x="628.9" y="526.6" width="6" height="6" fill="#70AD47"/>
<text x="639.7" y="532.9" font-size="12">40.8</text>
<rect x="214.5" y="580.8" width="6" height="6" fill="#5B9BD5"/>
<text x="223.5" y="587.8" font-size="11.65">Plantations</text>
<rect x="298.5" y="580.8" width="6" height="6" fill="#FFC000"/>
<text x="307" y="587.8" font-size="11.65">Natural Forests</text>
<rect x="405.2" y="580.8" width="6" height="6" fill="#70AD47"/>
<text x="413.7" y="587.8" font-size="11.65">Managed Forests</text>
<path d="M528.8 580.9L532.1 586.8L525.5 586.8Z" fill="none" stroke="#000" stroke-width="1.35" stroke-linejoin="miter"/>
<text x="535" y="587.8" font-size="11.65">Net</text>
</svg></body></html>
